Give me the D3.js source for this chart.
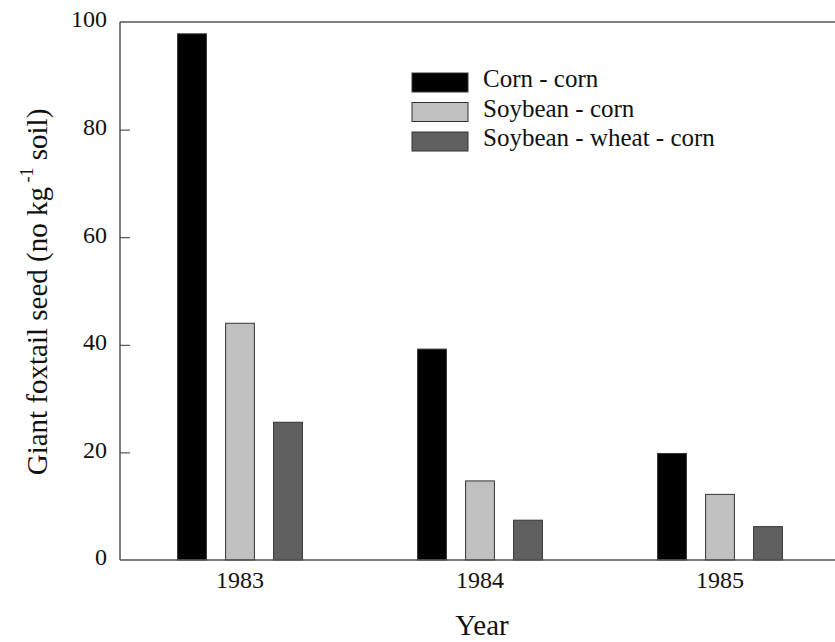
<!DOCTYPE html>
<html><head><meta charset="utf-8">
<script src="https://cdn.jsdelivr.net/npm/d3@7"></script>
<style>body{margin:0;background:#fff}svg{display:block}svg text{font-family:"Liberation Serif","Times New Roman",Times,"DejaVu Serif",serif !important}</style>
</head><body>
<script>
const years = ["1983", "1984", "1985"];
const seriesNames = ["Corn - corn", "Soybean - corn", "Soybean - wheat - corn"];
const cornCorn = [97.8, 39.2, 19.8];
const soybeanCorn = [44.0, 14.7, 12.2];
const soybeanWheatCorn = [25.6, 7.4, 6.2];
const yTicks = [0, 20, 40, 60, 80, 100];
const colors = ["#000000", "#c0c0c0", "#606060"];
const seriesValues = [cornCorn, soybeanCorn, soybeanWheatCorn];

const FONT = '"Liberation Serif", "Times New Roman", Times, serif';
const W = 835, H = 642;
const svg = d3.select("body").append("svg").attr("width", W).attr("height", H)
  .style("font-family", FONT);
const mLeft = 120, mRight = 840, mTop = 22, mBottom = 560;

const x = d3.scaleBand().domain(years).range([mLeft, mRight]);
const y = d3.scaleLinear().domain([0, 100]).range([mBottom, mTop]);
const inner = d3.scaleBand().domain(seriesNames).range([-72, 72]).paddingInner(0.4).paddingOuter(0.2);

// bars
years.forEach((yr, i) => {
  seriesNames.forEach((s, j) => {
    const v = seriesValues[j][i];
    const cx = x(yr) + x.bandwidth() / 2;
    svg.append("rect")
      .attr("x", cx + inner(s))
      .attr("width", inner.bandwidth())
      .attr("y", y(v))
      .attr("height", y(0) - y(v))
      .attr("fill", colors[j])
      .attr("stroke", "#333")
      .attr("stroke-width", 1);
  });
});

// frame lines
svg.append("line").attr("x1", mLeft).attr("x2", mRight).attr("y1", mTop).attr("y2", mTop).attr("stroke", "#555").attr("stroke-width", 1.5);
svg.append("line").attr("x1", mLeft).attr("x2", mRight).attr("y1", mBottom).attr("y2", mBottom).attr("stroke", "#555").attr("stroke-width", 1.5);

// y axis
const yAxis = d3.axisLeft(y).tickValues(yTicks).tickSize(-10).tickPadding(13);
const ya = svg.append("g").attr("transform", `translate(${mLeft},0)`).call(yAxis)
  .attr("font-family", null).style("font-family", FONT);
ya.select(".domain").attr("stroke", "#555").attr("stroke-width", 1.5).attr("d", `M0,${mBottom}V${mTop}`);
ya.selectAll(".tick line").attr("stroke", "#333");
ya.selectAll(".tick").filter(d => d === 0 || d === 100).select("line").remove();
ya.selectAll(".tick text").attr("font-size", 24).attr("dy", "0.2em").attr("fill", "#111").style("font-family", FONT);

// x axis labels
const xAxis = d3.axisBottom(x).tickSize(0);
const xa = svg.append("g").attr("transform", `translate(0,${mBottom})`).call(xAxis)
  .attr("font-family", null).style("font-family", FONT);
xa.select(".domain").remove();
xa.selectAll(".tick text").attr("font-size", 24).attr("y", 28).attr("dy", 0).attr("fill", "#111").style("font-family", FONT);

// axis titles
svg.append("text").attr("x", 482).attr("y", 635).attr("text-anchor", "middle")
  .attr("font-size", 29).attr("fill", "#111").style("font-family", FONT).text("Year");

const yt = svg.append("text").attr("transform", `translate(47,292) rotate(-90)`)
  .attr("text-anchor", "middle").attr("font-size", 29).attr("fill", "#111").style("font-family", FONT);
yt.append("tspan").text("Giant foxtail seed (no kg");
yt.append("tspan").attr("dy", -14).attr("font-size", 18).text(" -1");
yt.append("tspan").attr("dy", 14).text("  soil)");

// legend
const leg = svg.append("g").attr("transform", "translate(412,73)");
seriesNames.forEach((s, j) => {
  const g = leg.append("g").attr("transform", `translate(0,${j * 29.5})`);
  g.append("rect").attr("width", 56).attr("height", 19).attr("fill", colors[j]).attr("stroke", "#333").attr("stroke-width", 1);
  g.append("text").attr("x", 71).attr("y", 14).attr("font-size", 25).attr("fill", "#111").style("font-family", FONT).text(s);
});
</script>
</body></html>
